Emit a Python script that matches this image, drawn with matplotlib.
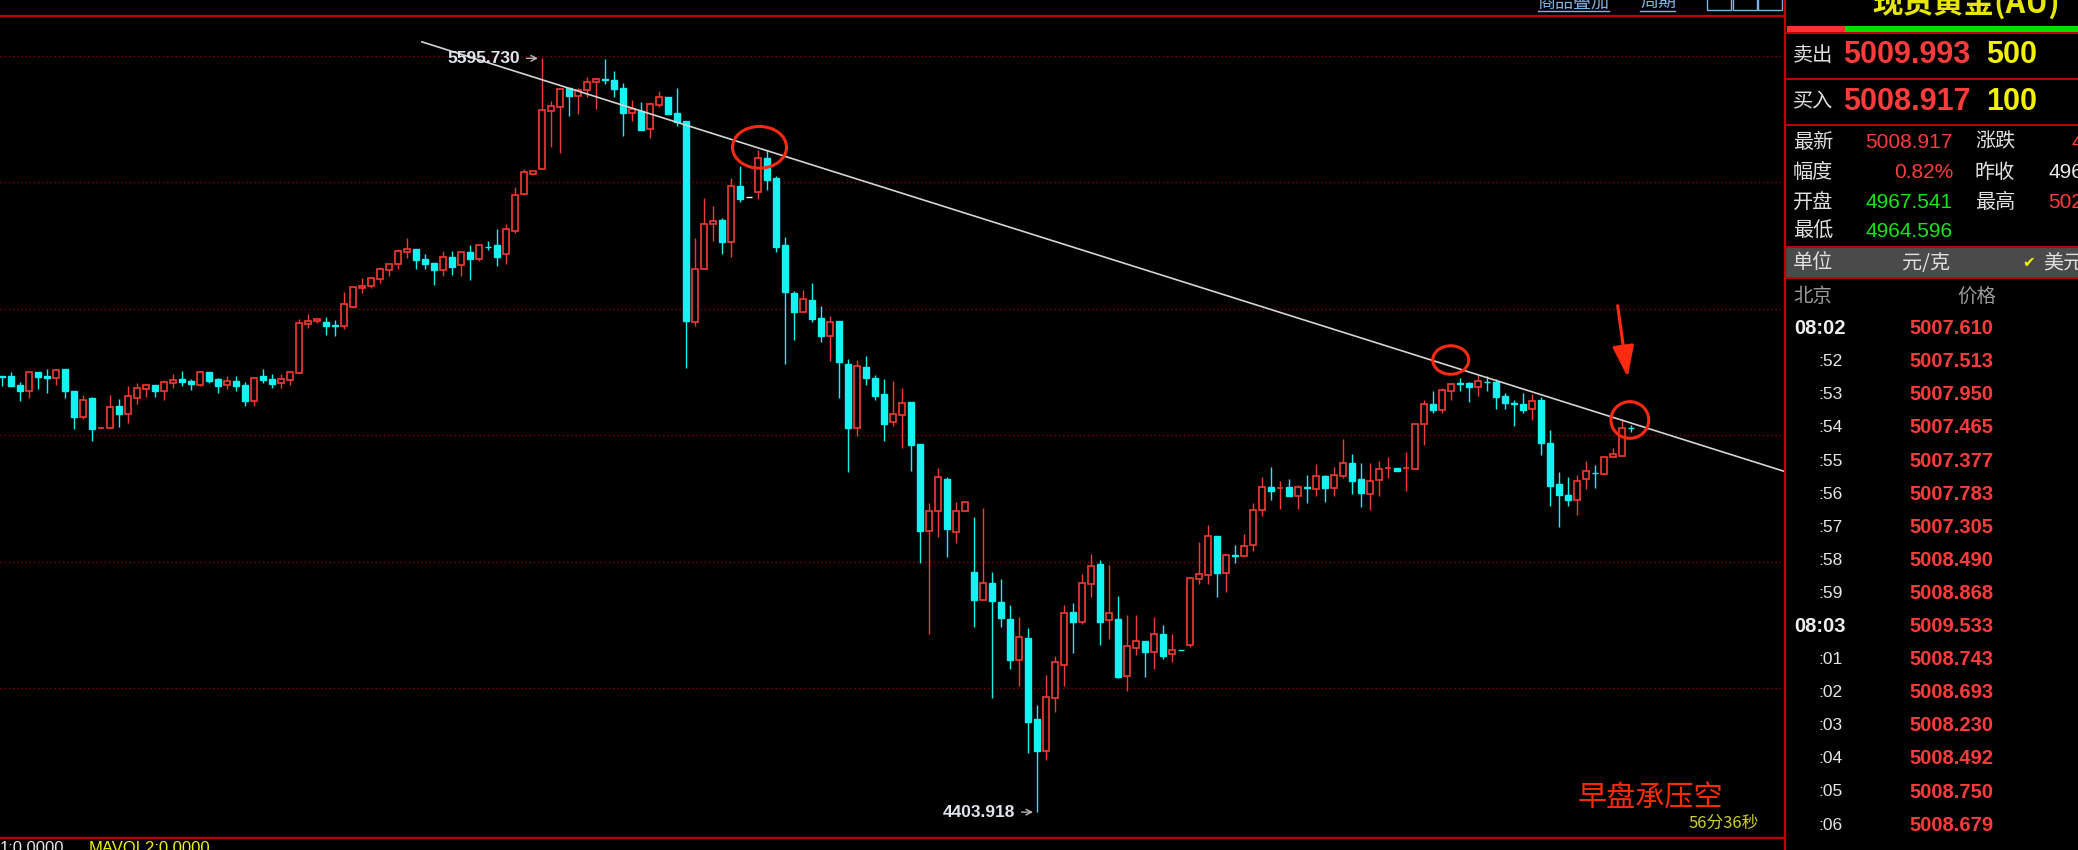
import numpy as np
import matplotlib
matplotlib.use("Agg")
import matplotlib.pyplot as plt
from matplotlib.patches import Ellipse, Rectangle

# candle data (1-minute bars)
opens = [5094, 5093, 5079, 5069, 5099, 5094, 5090, 5104, 5070, 5028,
         5058, 5010.5, 5012, 5046, 5033, 5059, 5073, 5079, 5069, 5083,
         5089, 5086, 5080, 5099, 5089, 5079, 5086, 5079, 5054, 5094,
         5089, 5083, 5087, 5098, 5175, 5181, 5179, 5174, 5173, 5203,
         5232, 5235, 5247, 5261, 5270, 5290, 5295, 5279, 5272, 5261,
         5281, 5269, 5289, 5278, 5298, 5300, 5286, 5323, 5381, 5413,
         5420, 5512, 5519, 5548, 5536, 5546, 5558, 5562.5, 5561.5, 5549,
         5510, 5512, 5484, 5522, 5535, 5510, 5496, 5179, 5262, 5333,
         5340, 5305, 5394, 5377, 5384, 5438, 5406, 5301, 5225, 5194,
         5213, 5185, 5156, 5180, 5112, 5012, 5108, 5090, 5065, 5020,
         5031, 5052, 4986, 4848, 4880, 4931, 4847, 4880, 4784, 4739,
         4766, 4736, 4710, 4645, 4679, 4551, 4501, 4585, 4637, 4720,
         4704, 4765, 4796, 4707, 4710, 4619, 4664, 4674, 4657, 4686,
         4654, 4660.2, 4668, 4773, 4779, 4840, 4782, 4810, 4809, 4826,
         4881, 4918, 4916, 4918, 4903, 4917.6, 4915, 4935, 4917, 4935,
         4956, 4930, 4907, 4929, 4948, 4948.4, 4948, 4947, 5017, 5049,
         5040, 5069, 5082, 5082, 5076, 5084.6, 5084, 5062, 5050.4, 5049,
         5041, 5055, 4987, 4923, 4906, 4897, 4930, 4940.8, 4938, 4965,
         4967, 5011.8]
highs = [5094, 5099, 5084, 5099, 5099, 5105, 5105, 5105, 5070, 5063,
         5061, 5011, 5063, 5057, 5078, 5082, 5079, 5079, 5087, 5096,
         5101, 5089, 5101, 5099, 5091, 5094, 5094, 5084, 5091, 5104,
         5096, 5096, 5101, 5183, 5191, 5184, 5186, 5182, 5227, 5236,
         5248, 5250, 5266, 5271, 5294, 5312, 5295, 5286, 5272, 5291,
         5291, 5289, 5301, 5301, 5307, 5326, 5333, 5393, 5421, 5418,
         5595.73, 5528, 5547, 5548, 5548, 5566, 5565, 5594.5, 5576, 5556,
         5530, 5526, 5526, 5544, 5535, 5549, 5496, 5311, 5375, 5363,
         5343, 5406, 5425, 5377, 5450, 5450, 5409, 5314, 5228, 5230,
         5240, 5204, 5188, 5180, 5120, 5118, 5125, 5095, 5088, 5086,
         5075, 5052, 4986, 4893, 4948, 4933, 4895, 4895, 4870, 4884,
         4783, 4772, 4731, 4712, 4695, 4573, 4620, 4650, 4731, 4734,
         4780, 4812, 4802, 4794, 4745, 4715, 4715, 4674, 4712, 4700,
         4686, 4660.2, 4776, 4831, 4858, 4840, 4812, 4826, 4843, 4893,
         4934, 4949, 4928, 4930, 4921, 4937, 4954, 4937, 4949, 4994,
         4970, 4956, 4956, 4959, 4966, 4948.4, 4973, 5017, 5055, 5069,
         5074, 5083, 5091, 5084, 5095, 5093, 5088, 5066, 5055, 5066,
         5065, 5060, 5008, 4942, 4933, 4937, 4959, 4952, 4966, 4979,
         5025, 5016]
lows = [5078, 5078, 5054, 5058, 5073, 5066, 5080, 5058, 5009, 5025,
        4990, 5010.5, 5011, 5013, 5019, 5049, 5061, 5061, 5055, 5075,
        5078, 5072, 5078, 5082, 5066, 5073, 5070, 5046, 5046, 5082,
        5075, 5075, 5080, 5098, 5170, 5178, 5158, 5156, 5168, 5201,
        5225, 5232, 5241, 5251, 5262, 5280, 5263, 5262, 5237, 5251,
        5253, 5251, 5245, 5275, 5293, 5268, 5270, 5320, 5380, 5413,
        5420, 5455, 5446, 5505, 5508, 5534, 5515, 5555, 5535, 5473,
        5497, 5482, 5469, 5519, 5507, 5489, 5106, 5172, 5262, 5307,
        5287, 5281, 5368, 5377, 5374, 5388, 5290, 5113, 5151, 5194,
        5179, 5147, 5117, 5059, 4942, 4999, 5080, 5056, 4991, 5015,
        4979, 4943, 4798, 4686, 4839, 4808, 4829, 4880, 4696, 4739,
        4584, 4696, 4630, 4604, 4497, 4403.918, 4486, 4563, 4603, 4656,
        4701, 4744, 4668, 4678, 4616, 4595, 4653, 4617, 4630, 4646,
        4641, 4659.9, 4665, 4765, 4765, 4744, 4752, 4798, 4809, 4816,
        4872, 4897, 4883, 4903, 4883, 4892, 4903, 4895, 4904, 4932,
        4907, 4886, 4881, 4903, 4932, 4943, 4912, 4947, 4985, 5035,
        5035, 5056, 5069, 5052, 5062, 5069, 5042, 5042, 5014, 5035,
        5024, 4968, 4888, 4855, 4888, 4874, 4915, 4917, 4938, 4965,
        4967, 5005]
closes = [5092, 5078, 5069, 5099, 5092, 5090, 5103, 5069, 5028, 5055,
          5009, 5011, 5044, 5033, 5062, 5074, 5079, 5069, 5084, 5087,
          5084, 5081, 5100, 5085, 5078, 5086, 5078, 5054, 5091, 5087,
          5081, 5089, 5100, 5178, 5181, 5183, 5173, 5173, 5207, 5234,
          5236, 5248, 5262, 5270, 5291, 5295, 5277, 5270, 5261, 5281,
          5266, 5289, 5278, 5300, 5297, 5282, 5326, 5379, 5416, 5418,
          5514, 5520, 5547, 5536, 5546, 5558, 5563, 5561.5, 5547, 5510,
          5516, 5482, 5523, 5535, 5507, 5495, 5181, 5263, 5334, 5339,
          5305, 5394, 5374, 5377, 5438, 5404, 5298, 5227, 5195, 5215,
          5184, 5156, 5179, 5116, 5012, 5110, 5090, 5062, 5017, 5033,
          5050, 4985, 4848, 4880, 4933, 4851, 4880, 4895, 4739, 4766,
          4737, 4711, 4644, 4681, 4547, 4501, 4586, 4641, 4719, 4704,
          4766, 4793, 4704, 4719, 4617, 4667, 4674, 4657, 4686, 4651,
          4660, 4659.9, 4774, 4781, 4840, 4782, 4810, 4809.5, 4824, 4881,
          4918, 4912, 4917, 4903, 4918, 4917, 4935, 4917, 4937, 4956,
          4928, 4909, 4927, 4946, 4948.6, 4943, 4948.5, 5017, 5049, 5040,
          5072, 5081, 5081.4, 5076, 5086, 5084, 5060, 5050, 5049.8, 5040,
          5054, 4988, 4920, 4905, 4897, 4927, 4944, 4940.2, 4965, 4970,
          5012, 5011.3]

grid_prices = [5600, 5400, 5200, 5000, 4800, 4600]
hi_idx, hi_text = 60, "5595.730"
lo_idx, lo_text = 115, "4403.918"
trend_x = [46.6, 198.1]
trend_y = [5622.1, 4942.5]
circle_x = [84.2, 161.0, 180.9]
circle_y = [5455.0, 5118.7, 5023.9]
arrow_tail = (179.5, 5208.9)
arrow_head = (180.7, 5087.1)

# right-hand quote panel
title = "现货黄金(AU)"
sell_price, sell_vol = "5009.993", "500"
buy_price, buy_vol = "5008.917", "100"
quote_left = [("最新", "5008.917"), ("幅度", "0.82%"), ("开盘", "4967.541"), ("最低", "4964.596")]
quote_right = [("涨跌", "40.717"), ("昨收", "4968.200"), ("最高", "5025.300")]
tick_times = ["08:02", ":52", ":53", ":54", ":55", ":56", ":57", ":58", ":59",
              "08:03", ":01", ":02", ":03", ":04", ":05", ":06", ":07"]
tick_prices = ["5007.610", "5007.513", "5007.950", "5007.465", "5007.377", "5007.783",
               "5007.305", "5008.490", "5008.868", "5009.533", "5008.743", "5008.693",
               "5008.230", "5008.492", "5008.750", "5008.679", "5008.640"]

RED = "#f23a32"
CYAN = "#14f2f2"
PRED = "#ff3b3b"
GREEN = "#12e812"
YEL = "#f2f200"
FRAME = "#c00000"
CJK = ["Noto Sans CJK SC", "DejaVu Sans"]
NUM = ["Liberation Sans", "DejaVu Sans"]

fig = plt.figure(figsize=(20.78, 8.5), dpi=100, facecolor="black")
ax = fig.add_axes([0, 12 / 850, 1785 / 2078, 822.3 / 850])
ax.set_facecolor("black")
ax.set_xlim(-0.19, 198.14)
ax.set_ylim(4363.0, 5663.1)
ax.axis("off")

for p in grid_prices:
    ax.axhline(p, color="#8a0000", lw=1.0, ls=(0, (1, 2)), zorder=1)

o = np.array(opens, float)
h = np.array(highs, float)
l = np.array(lows, float)
c = np.array(closes, float)
idx = np.arange(len(o))
up = c > o
down = c < o
flat = c == o
wick_col = np.where(up, RED, np.where(down, CYAN, "white"))
ax.vlines(idx, l, h, colors=wick_col, lw=1.0, zorder=2)
bot = np.minimum(o, c)
hgt = np.abs(c - o)
ax.bar(idx[up], hgt[up], bottom=bot[up], width=0.64, facecolor="black",
       edgecolor=RED, linewidth=1.2, zorder=3)
ax.bar(idx[down], hgt[down], bottom=bot[down], width=0.66, facecolor=CYAN,
       edgecolor=CYAN, linewidth=1.0, zorder=3)
ax.bar(idx[flat], hgt[flat], bottom=bot[flat], width=0.66, facecolor="white",
       edgecolor="white", linewidth=1.0, zorder=3)

# trend line
ax.plot(trend_x, trend_y, color="#d4d4d4", lw=1.2, zorder=4, solid_capstyle="butt")

# extreme labels
ax.text(hi_idx - 2.4, highs[hi_idx], hi_text, color="#dfe5ee", fontsize=12.5,
        fontweight="bold", family=NUM, ha="right", va="center", zorder=5)
ax.annotate("", xy=(hi_idx - 0.1, highs[hi_idx]), xytext=(hi_idx - 2.0, highs[hi_idx]),
            arrowprops=dict(arrowstyle="->", color="#bbbbbb", lw=1.0), zorder=5)
ax.text(lo_idx - 2.4, lows[lo_idx], lo_text, color="#dfe5ee", fontsize=12.5,
        fontweight="bold", family=NUM, ha="right", va="center", zorder=5)
ax.annotate("", xy=(lo_idx - 0.1, lows[lo_idx]), xytext=(lo_idx - 2.0, lows[lo_idx]),
            arrowprops=dict(arrowstyle="->", color="#bbbbbb", lw=1.0), zorder=5)

# red annotation circles and arrow
for cx, cy, w, hh in zip(circle_x, circle_y, [6.0, 4.0, 4.2], [66, 45, 58]):
    ax.add_patch(Ellipse((cx, cy), w, hh, fill=False, edgecolor="#ff2a10", lw=2.2, zorder=6))
ax.annotate("", xy=arrow_head, xytext=arrow_tail,
            arrowprops=dict(arrowstyle="-|>,head_length=1.6,head_width=0.55",
                            color="#ff2a10", lw=2.2, mutation_scale=12), zorder=6)

# overlay in pixel coordinates for frame and panel
ov = fig.add_axes([0, 0, 1, 1], facecolor="none")
ov.set_xlim(0, 2078)
ov.set_ylim(850, 0)
ov.axis("off")

ov.plot([0, 1785], [15.7, 15.7], color=FRAME, lw=1.6)
ov.plot([0, 1785], [838, 838], color=FRAME, lw=1.6)
ov.plot([1785, 1785], [0, 850], color=FRAME, lw=1.6)

# top toolbar (cut off by the frame edge, as in the screenshot)
ov.text(1538, 3, "商品叠加", color="#7fb2e5", fontsize=13, family=CJK, va="center")
ov.text(1640, 3, "周期", color="#7fb2e5", fontsize=13, family=CJK, va="center")
ov.plot([1538, 1609], [10.5, 10.5], color="#7fb2e5", lw=1)
ov.plot([1640, 1675], [10.5, 10.5], color="#7fb2e5", lw=1)
for x0 in [1707, 1733, 1758]:
    ov.add_patch(Rectangle((x0, -3), 24, 13, fill=False, edgecolor="#7fb2e5", lw=1))

ov.text(1578, 799, "早盘承压空", color="#ff2a00", fontsize=21, family=CJK, va="center")
ov.text(1689, 823, "56分36秒", color="#cfcf28", fontsize=12, family=CJK, va="center")
ov.text(0, 848.5, "1:0.0000", color="#e6e6e6", fontsize=12, family=NUM, va="center")
ov.text(89, 848.5, "MAVOL2:0.0000", color=YEL, fontsize=12, family=NUM, va="center")

# panel
ov.text(1872, 3, title, color="#e6e600", fontsize=22, fontweight="bold", family=CJK, va="center")
ov.add_patch(Rectangle((1787, 26), 58, 6, color="#ff3030", lw=0))
ov.add_patch(Rectangle((1845, 26), 233, 6, color="#00e000", lw=0))
for yy in [33, 79, 125, 247, 278]:
    ov.plot([1786, 2078], [yy, yy], color=FRAME, lw=1.4)

ov.text(1793, 55, "卖出", color="#e0e0e0", fontsize=14.5, family=CJK, va="center")
ov.text(1843, 55, sell_price, color=PRED, fontsize=22, fontweight="bold", family=NUM, va="center")
ov.text(1986, 55, sell_vol, color=YEL, fontsize=22, fontweight="bold", family=NUM, va="center")
ov.text(1793, 102, "买入", color="#e0e0e0", fontsize=14.5, family=CJK, va="center")
ov.text(1843, 102, buy_price, color=PRED, fontsize=22, fontweight="bold", family=NUM, va="center")
ov.text(1986, 102, buy_vol, color=YEL, fontsize=22, fontweight="bold", family=NUM, va="center")

row_y = [142, 172, 202, 231]
left_cols = [PRED, PRED, GREEN, GREEN]
right_cols = [PRED, "#e8e8e8", PRED]
for i, (lab, val) in enumerate(quote_left):
    ov.text(1793, row_y[i], lab, color="#e0e0e0", fontsize=14.5, family=CJK, va="center")
    ov.text(1953, row_y[i], val, color=left_cols[i], fontsize=15, family=NUM, ha="right", va="center")
for i, (lab, val) in enumerate(quote_right):
    ov.text(1975, row_y[i], lab, color="#e0e0e0", fontsize=14.5, family=CJK, va="center")
    ov.text(2136, row_y[i], val, color=right_cols[i], fontsize=15, family=NUM, ha="right", va="center")

ov.add_patch(Rectangle((1786, 247), 292, 31, color="#4a4a4a", lw=0))
ov.text(1793, 263, "单位", color="#e0e0e0", fontsize=14.5, family=CJK, va="center")
ov.text(1902, 263, "元/克", color="#e0e0e0", fontsize=14.5, family=CJK, va="center")
ov.text(2022, 263, "✔", color=YEL, fontsize=11, family=["DejaVu Sans"], va="center")
ov.text(2043, 263, "美元", color="#e0e0e0", fontsize=14.5, family=CJK, va="center")

ov.text(1793, 297, "北京", color="#9a9a9a", fontsize=14, family=CJK, va="center")
ov.text(1957, 297, "价格", color="#9a9a9a", fontsize=14, family=CJK, va="center")

for k, (t, pr) in enumerate(zip(tick_times, tick_prices)):
    yy = 328.6 + 33.1 * k
    if t.startswith("08"):
        ov.text(1794, yy, t, color="#eeeeee", fontsize=14.5, fontweight="bold", family=NUM, va="center")
    else:
        ov.text(1818, yy, t, color="#e6e6e6", fontsize=12.5, family=NUM, va="center")
    ov.text(1909, yy, pr, color=PRED, fontsize=14.5, fontweight="bold", family=NUM, va="center")

fig.savefig("out.png", dpi=100, facecolor="black")
